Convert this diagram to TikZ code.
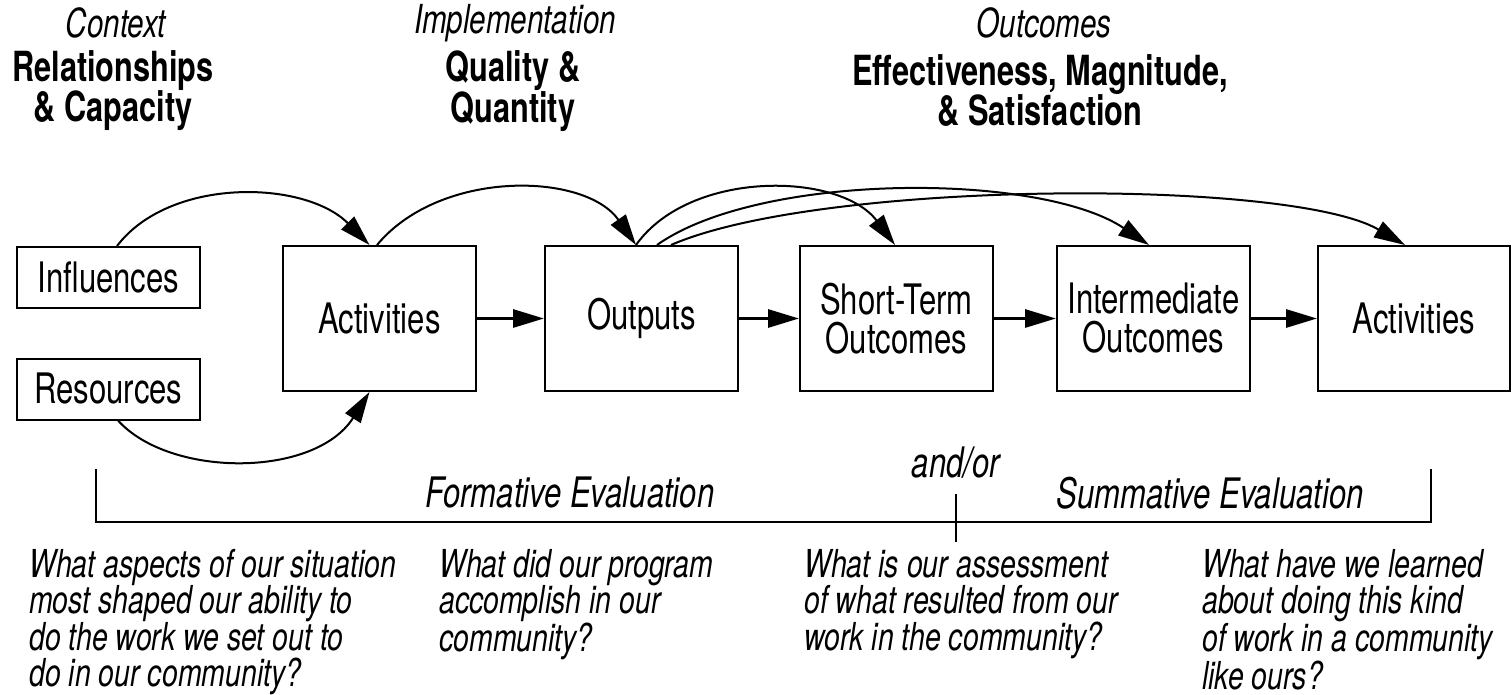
\documentclass[tikz,border=0pt]{standalone}
\usepackage{fontspec}
\setmainfont{TeX Gyre Heros}[FakeStretch=0.74]
\usetikzlibrary{arrows.meta}
\begin{document}
\begin{tikzpicture}[x=1pt,y=-1pt,
  box/.style={draw, line width=2pt, inner sep=0pt, align=center,
    font=\fontsize{42}{39}\selectfont},
  smallbox/.style={box, minimum width=183pt, minimum height=61pt},
  bigbox/.style={box, minimum width=193pt, minimum height=145pt},
  tip/.style={-{Triangle[length=31pt,width=18pt]}},
  harrow/.style={tip, line width=3pt},
  curve/.style={tip, line width=2pt},
  head/.style={align=center, inner sep=0pt, font=\fontsize{40}{40}\selectfont\itshape},
  bold/.style={align=center, inner sep=0pt, font=\fontsize{41.5}{40}\selectfont\bfseries},
  question/.style={align=left, anchor=north west, inner sep=0pt,
    font=\fontsize{38.5}{36.5}\selectfont\itshape},
  evallabel/.style={inner sep=0pt, font=\fontsize{42}{40}\selectfont\itshape},
  bracket/.style={line width=2pt}
]
\useasboundingbox (0,0) rectangle (1512,695);

% top headings
\node[head] (hctx) at (116,23) {Context};
\node[bold] (bctx) at (113,91) {Relationships\\\& Capacity};
\node[head] (himp) at (515,23) {Implementation};
\node[bold] (bimp) at (513,91) {Quality \&\\Quantity};
\node[head] (hout) at (1044,23) {Outcomes};
\node[bold] (bout) at (1040,91) {Effectiveness, Magnitude,\\\& Satisfaction};

% boxes
\node[smallbox] (infl) at (108.5,277.5) {Influences};
\node[smallbox] (res) at (108.5,389) {Resources};
\node[bigbox] (act1) at (379.5,318.5) {Activities};
\node[bigbox] (outp) at (641.5,318.5) {Outputs};
\node[bigbox] (short) at (896.5,318.5) {Short-Term\\Outcomes};
\node[bigbox] (inter) at (1153.5,318.5) {Intermediate\\Outcomes};
\node[bigbox, minimum width=192pt] (act2) at (1414,318.5) {Activities};

% horizontal arrows
\draw[harrow] (act1.east) -- (outp.west);
\draw[harrow] (outp.east) -- (short.west);
\draw[harrow] (short.east) -- (inter.west);
\draw[harrow] (inter.east) -- (act2.west);

% curved arrows
\draw[curve] ([xshift=8.5pt]infl.north) .. controls (170,176.5) and (305,180) .. ([xshift=-10pt]act1.north);
\draw[curve] ([xshift=9.5pt]res.south) .. controls (170,478) and (315,478) .. ([xshift=-10pt]act1.south);
\draw[curve] ([xshift=-2.5pt]act1.north) .. controls (440,169) and (585,172) .. ([xshift=-5.5pt]outp.north);
\draw[curve] ([xshift=-5.5pt]outp.north) .. controls (690,169) and (840,172) .. ([xshift=-1.5pt]short.north);
\draw[curve] ([xshift=15.5pt]outp.north) .. controls (760,172) and (1040,172) .. ([xshift=-4.5pt]inter.north);
\draw[curve] ([xshift=29.5pt]outp.north) .. controls (820,180) and (1290,178) .. ([xshift=-9pt]act2.north);

% evaluation bracket
\coordinate (bl) at (96,469);
\coordinate (br) at (1431,469);
\coordinate (tk) at (956,494);
\draw[bracket] (bl) -- (96,522) -- (1431,522) -- (br);
\draw[bracket] (tk) -- (956,542);
\node[evallabel] (form) at (570,493) {Formative Evaluation};
\node[evallabel] (summ) at (1210,493) {Summative Evaluation};
\node[evallabel] (andor) at (956,463) {and/or};

% questions
\node[question] (q1) at (29,549) {What aspects of our situation\\most shaped our ability to\\do the work we set out to\\do in our community?};
\node[question] (q2) at (439,549) {What did our program\\accomplish in our\\community?};
\node[question] (q3) at (804,549) {What is our assessment\\of what resulted from our\\work in the community?};
\node[question] (q4) at (1202,549) {What have we learned\\about doing this kind\\of work in a community\\like ours?};
\end{tikzpicture}
\end{document}
